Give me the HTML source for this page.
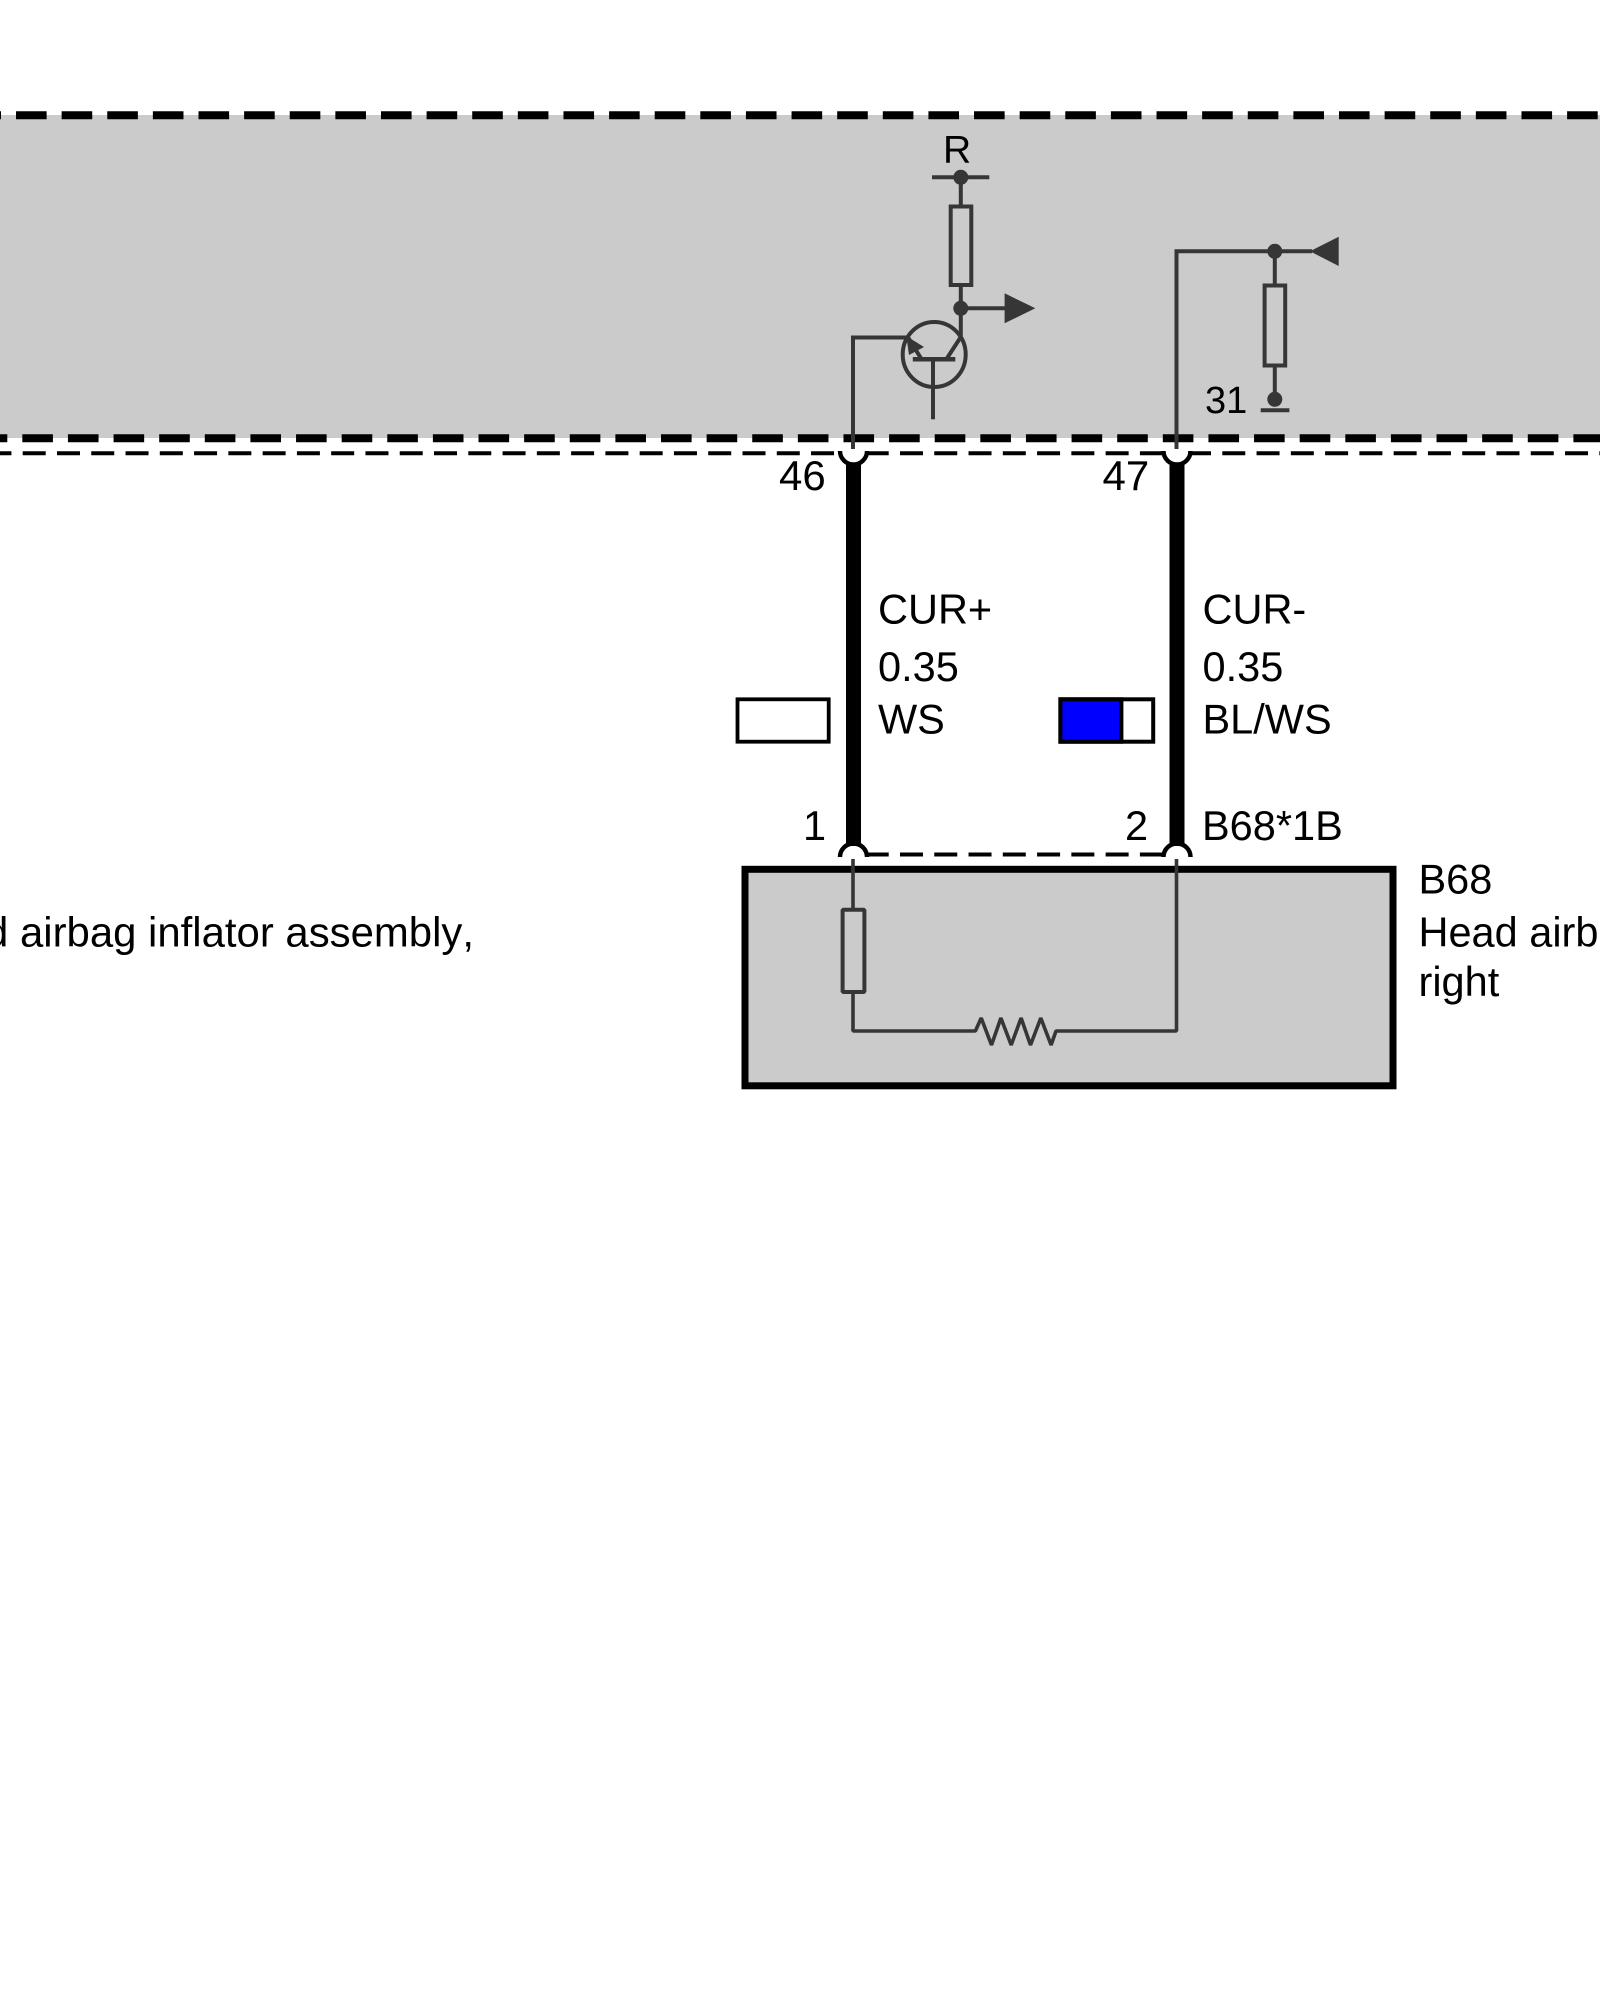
<!DOCTYPE html>
<html>
<head>
<meta charset="utf-8">
<style>
html,body{margin:0;padding:0;background:#fff;width:1600px;height:2000px;overflow:hidden}
svg{display:block}
text{font-family:"Liberation Sans",Arial,sans-serif;fill:#000;font-size:41.5px;font-kerning:none;font-variant-ligatures:none}
</style>
</head>
<body>
<svg width="1600" height="2000" viewBox="0 0 1600 2000" xmlns="http://www.w3.org/2000/svg">
<rect width="1600" height="2000" fill="#fff"/>
<rect x="0" y="115" width="1600" height="323" fill="#cbcbcb"/>

<!-- device box -->
<rect x="745" y="869.3" width="648" height="216.5" fill="#cbcbcb" stroke="#000" stroke-width="7"/>

<!-- boundary dashes -->
<line x1="-29.6" y1="115.3" x2="1620" y2="115.3" stroke="#000" stroke-width="8" stroke-dasharray="30.6 15.02"/>
<line x1="-23.3" y1="438.3" x2="1620" y2="438.3" stroke="#000" stroke-width="8" stroke-dasharray="30.6 15.02"/>

<!-- thin connector dashes -->
<g stroke="#000" stroke-width="4" fill="none" stroke-dasharray="23 11.276">
<line x1="-11.576" y1="453.3" x2="834" y2="453.3"/>
<line x1="865.7" y1="453.3" x2="1165" y2="453.3"/>
<line x1="1188" y1="453.3" x2="1620" y2="453.3"/>
<line x1="865.7" y1="854.5" x2="1165" y2="854.5"/>
</g>

<!-- thick wires -->
<rect x="846" y="462.5" width="15" height="383.5" fill="#000"/>
<rect x="1169.5" y="462.5" width="15" height="383.5" fill="#000"/>

<!-- pin cups -->
<g fill="none" stroke="#000" stroke-width="4.4">
<path d="M840 452 V451 A13.5 13.5 0 0 0 867 451 V452"/>
<path d="M1163.5 452 V451 A13.5 13.5 0 0 0 1190.5 451 V452"/>
<path d="M840 856 V857 A13.5 13.5 0 0 1 867 857 V856"/>
<path d="M1163.5 856 V857 A13.5 13.5 0 0 1 1190.5 857 V856"/>
</g>

<!-- internal circuit upper -->
<g fill="none" stroke="#363636" stroke-width="4">
<path d="M853 449 V337.5 H906"/>
<path d="M1176.5 449 V251.3 H1312"/>
<path d="M932 177.3 H989.3"/>
<path d="M960.8 177 V206 M960.8 285 V337 L946.5 359"/>
<rect x="950.7" y="206.5" width="20.6" height="78.5"/>
<path d="M961 308.3 H1006"/>
<ellipse cx="934.2" cy="354.5" rx="31.5" ry="32.5"/>
<path d="M912.8 359.3 H955.3" stroke-width="4.5"/>
<path d="M933 359 V419.3"/>
<path d="M908 337.3 L921.6 359.3"/>
<path d="M1274.8 251 V285 M1274.8 365.7 V399"/>
<rect x="1264.6" y="285.5" width="20.6" height="80"/>
<path d="M1260.7 410.3 H1289.4"/>
</g>
<g fill="#363636">
<circle cx="960.8" cy="177.3" r="7.5"/>
<circle cx="960.8" cy="308.3" r="7.5"/>
<circle cx="1274.8" cy="251.3" r="7.5"/>
<circle cx="1274.8" cy="399.3" r="7.5"/>
<polygon points="1004.6,293.3 1035.3,308.3 1004.6,323.3"/>
<polygon points="1310,251.3 1338.7,236.7 1338.7,266"/>
<polygon points="906.3,336 924,347 909,355"/>
</g>

<!-- internal circuit lower -->
<g fill="none" stroke="#363636" stroke-width="3.6" stroke-linejoin="bevel">
<path d="M853 859 V909.5 M853 992 V1031 H975.4 L981.2 1018 L991.5 1045 L1000.9 1018 L1011.2 1045 L1021.1 1018 L1030.5 1045 L1040.8 1018 L1051.1 1045 L1056 1031 H1176.5 V859"/>
<rect x="842.6" y="909.8" width="21.8" height="82.2" stroke-width="4"/>
</g>

<!-- colour swatches -->
<rect x="737.5" y="699.3" width="91.2" height="42.4" fill="#fff" stroke="#000" stroke-width="3.8"/>
<rect x="1060.4" y="699.3" width="92.8" height="42.4" fill="#fff" stroke="#000" stroke-width="4"/>
<rect x="1060.4" y="699.3" width="61" height="42.4" fill="#0000ff" stroke="#000" stroke-width="4"/>

<!-- labels -->
<text x="943" y="162.7" style="font-size:39px">R</text>
<text x="1205" y="413" style="font-size:38px">31</text>
<text x="779" y="490" style="font-size:42px">46</text>
<text x="1102.5" y="490" style="font-size:42px">47</text>
<text x="878" y="623.3">CUR+</text>
<text x="878" y="681">0.35</text>
<text x="878" y="733.3">WS</text>
<text x="1202.5" y="623.3">CUR-</text>
<text x="1202.5" y="681">0.35</text>
<text x="1202.5" y="733.3">BL/WS</text>
<text x="803" y="840">1</text>
<text x="1125" y="840">2</text>
<text x="1202" y="840">B68*1B</text>
<text x="1418.5" y="893.3">B68</text>
<text x="1418.5" y="946.7">Head airbag inflator assembly,</text>
<text x="1418.5" y="996">right</text>
<text x="474" y="946.7" text-anchor="end" style="font-size:41.9px">Head airbag inflator assembly,</text>
</svg>
</body>
</html>
